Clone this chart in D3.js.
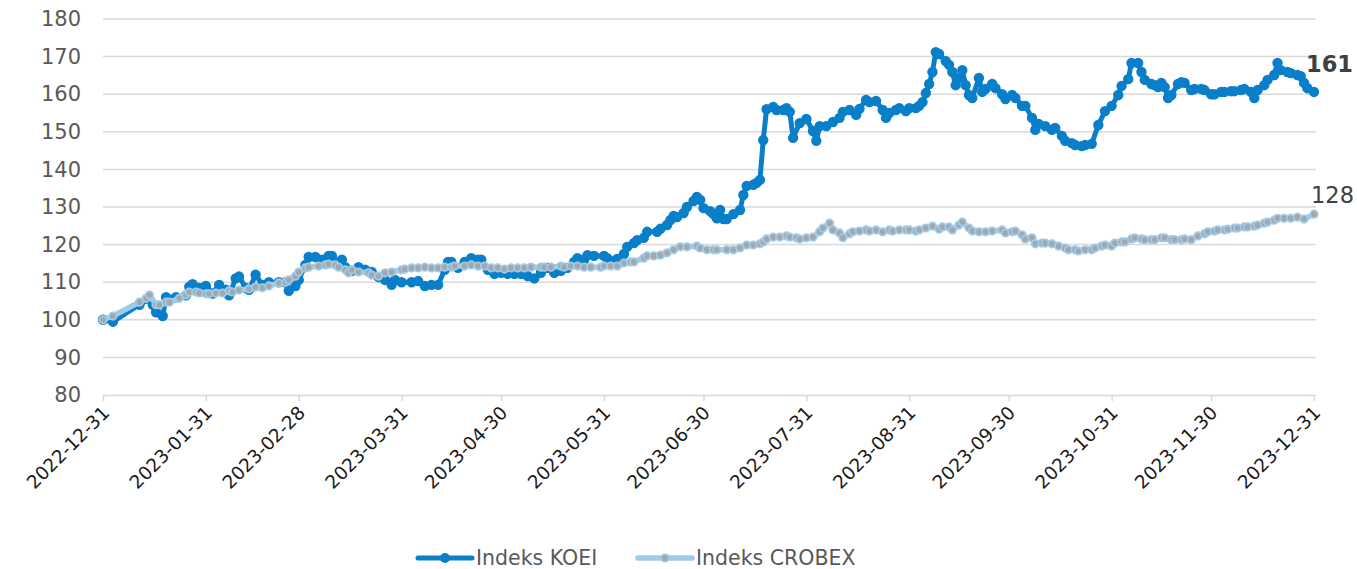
<!DOCTYPE html>
<html>
<head>
<meta charset="utf-8">
<script src="https://cdn.jsdelivr.net/npm/d3@7"></script>
<style>
  html, body { margin: 0; padding: 0; background: #fff; }
  svg { display: block; font-family: "DejaVu Sans", Verdana, sans-serif; }
</style>
</head>
<body>
<div id="chart"></div>
<script>
/* ── data: [days after 2022-12-31, index value] ── */
const seriesNames = ['Indeks KOEI', 'Indeks CROBEX'];
const monthTicks = ['2022-12-31','2023-01-31','2023-02-28','2023-03-31','2023-04-30','2023-05-31',
  '2023-06-30','2023-07-31','2023-08-31','2023-09-30','2023-10-31','2023-11-30','2023-12-31'];
const yTicks = [80, 90, 100, 110, 120, 130, 140, 150, 160, 170, 180];

const koei = [
  [0,100],[3,99.5],[11,104],[14,105.5],[15,104],[16,102],[18,101],[19,106],[22,106],[25,106.5],
  [26,108.8],[27,109.5],[29,108.5],[31,109],[33,107],[35,109.3],[37,108],[38,106.5],[40,111],[41,111.5],
  [43,108.5],[44,108],[46,112],[48,109.3],[50,110],[53,110],[55,110],[56,107.7],[58,109],[59,110.6],
  [61,114.6],[62,116.7],[64,116.7],[66,116],[68,117],[69,117],[71,115],[72,116],[73,114],[75,113],
  [77,114],[79,113.3],[81,112.7],[83,111.4],[85,110.6],[87,109.3],[88,110.6],[90,110],[93,110],[95,110.3],
  [97,109],[99,109.3],[101,109.3],[103,113.3],[104,115.4],[105,115.4],[107,113.8],[109,115.4],[111,116.4],[113,116],
  [114,116],[116,113.3],[118,112.2],[120,112.5],[122,112.2],[124,112.2],[126,112.2],[128,111.6],[130,111],[132,112.5],
  [134,113.8],[136,112.5],[138,113],[140,113.8],[142,115.4],[143,116.4],[145,116],[146,117.2],[148,117],[151,117],
  [152,116.4],[154,115.6],[155,116.2],[157,117.5],[158,119.4],[160,120.4],[161,121.2],[163,121.8],[164,123.4],[167,123.4],
  [168,124.2],[170,125.2],[171,126.5],[172,127.6],[173,127.3],[175,128.4],[176,130],[178,131.6],[179,132.7],[180,131.9],
  [181,129.7],[183,128.9],[184,128.1],[185,127],[186,129.2],[187,126.8],[188,126.8],[190,128.1],[192,129.2],[193,133.2],
  [194,135.6],[196,135.9],[197,136.4],[198,137.2],[199,147.8],[200,156],[202,156.6],[203,155.8],[205,155.8],[206,156.3],
  [207,155.3],[208,148.4],[210,152.3],[212,153.4],[214,150.2],[215,147.6],[216,151.5],[218,151.5],[220,152.6],[222,153.7],
  [223,155.3],[225,155.8],[227,154.5],[228,156.1],[230,158.5],[231,157.9],[233,158.2],[235,155.8],[236,153.7],[237,155],
  [239,155.8],[240,156.3],[242,155.5],[243,156.3],[245,156.3],[246,156.9],[247,157.9],[248,160.3],[249,162.7],[250,165.9],
  [251,171.2],[252,170.7],[254,168.8],[255,167.8],[256,165.9],[257,162.4],[258,164.3],[259,166.4],[260,162.4],[261,159.8],
  [262,159],[264,164.3],[265,160.6],[266,161.4],[268,162.7],[269,161.6],[271,160],[272,158.7],[274,159.8],[275,159],
  [277,156.9],[278,156.9],[280,153.7],[281,150.5],[282,152.1],[284,151.5],[286,150.5],[287,151],[289,148.9],[290,147.6],
  [292,147],[293,146.5],[295,146.2],[296,146.5],[298,146.8],[300,151.8],[302,155.5],[304,156.9],[306,159.8],[307,162.2],
  [309,164],[310,168.3],[312,168.3],[313,165.9],[314,163.8],[316,162.7],[317,162.4],[318,161.9],[319,163],[320,161.9],
  [321,159],[322,159.8],[324,162.7],[325,163.2],[326,163],[328,161.1],[329,161.4],[331,161.4],[332,161.1],[334,160],
  [335,160],[337,160.6],[338,160.6],[340,160.8],[341,160.8],[343,161.1],[344,161.4],[346,160.6],[347,159],[348,161.1],
  [350,162.4],[351,163.8],[353,165.1],[354,168.3],[355,166.4],[357,165.9],[358,165.6],[360,165.1],[361,164.8],[362,163],
  [363,161.6],[365,160.6]
];

const crobex = [
  [0,100],[3,101],[11,104.7],[13,105.7],[14,106.6],[16,104],[17,104],[19,104.7],[20,104.7],[23,105.7],
  [25,106.6],[26,107.4],[28,107.4],[29,107.1],[31,106.9],[32,106.9],[34,107.1],[36,107.1],[38,107.7],[39,107.4],
  [41,107.9],[44,108.2],[46,108.7],[48,108.5],[50,109],[53,109.8],[55,110],[56,110.6],[58,111.6],[59,112.7],
  [61,113.8],[62,114],[65,114.3],[67,114.6],[68,114.8],[70,114.6],[71,114],[73,113.3],[74,112.5],[75,113.3],
  [77,112.7],[80,112.5],[81,111.9],[83,111.6],[85,112.5],[87,112.7],[90,113.3],[91,113.5],[93,113.8],[95,113.8],
  [97,114],[99,113.8],[101,113.8],[103,114],[105,114],[106,114.3],[109,114.3],[111,114.6],[113,114.3],[115,114.3],
  [117,113.8],[119,113.8],[121,113.5],[123,113.8],[125,113.8],[127,113.8],[129,114],[132,114],[133,114],[135,114],
  [138,114.3],[139,114],[141,114.3],[143,114.3],[145,114],[147,114],[150,114],[151,114.3],[153,114.3],[155,114.3],
  [157,115.1],[159,115.4],[160,115.4],[163,116.4],[164,117],[166,117],[168,117.2],[170,117.8],[172,118.6],[174,119.4],
  [176,119.4],[179,119.6],[180,119.1],[182,118.6],[184,118.6],[185,118.6],[188,118.6],[190,118.6],[192,119.1],[194,119.9],
  [196,119.9],[198,120.2],[199,120.7],[200,121.5],[202,122],[204,122],[206,122.3],[207,122],[209,121.8],[210,121.5],
  [212,121.8],[214,122],[216,123.4],[217,124.4],[219,125.7],[220,123.9],[222,123.1],[223,121.8],[225,122.9],[226,123.4],
  [228,123.6],[230,123.9],[231,123.6],[233,123.9],[235,123.4],[237,123.9],[238,123.6],[240,123.9],[242,123.9],[243,123.9],
  [245,123.6],[246,123.9],[248,124.4],[250,124.9],[252,124.1],[253,124.7],[255,124.7],[256,123.9],[258,125.2],[259,126],
  [261,124.4],[262,123.6],[264,123.4],[266,123.4],[268,123.6],[271,123.9],[272,123.1],[274,123.4],[275,123.6],[277,122.6],
  [278,121.5],[280,121.8],[281,120.2],[283,120.4],[284,120.4],[286,120.2],[288,119.6],[290,119.1],[291,118.6],[293,118.6],
  [294,118.3],[296,118.6],[298,118.6],[299,119.1],[301,119.6],[302,119.9],[304,119.6],[305,120.4],[307,120.7],[308,120.7],
  [310,121.5],[311,121.8],[313,121.5],[314,121.3],[316,121.3],[317,121.3],[319,121.8],[320,121.8],[322,121.3],[323,121.3],
  [325,121.3],[326,121.5],[328,121.3],[330,122.3],[332,122.9],[333,123.4],[335,123.6],[336,123.9],[338,123.9],[339,124.1],
  [341,124.4],[342,124.4],[344,124.7],[345,124.7],[347,124.9],[348,125.2],[350,125.7],[351,126],[353,126.5],[354,127],
  [356,127],[358,127],[360,127.3],[362,126.8],[365,128.1]
];

/* ── layout ── */
const width = 1357, height = 569;
const plot = { left: 103, right: 1314, top: 19, bottom: 395 };
const base = new Date(2022, 11, 31);
const toDate = d => d3.timeDay.offset(base, d);
const parse = d3.timeParse('%Y-%m-%d');

const x = d3.scaleTime()
  .domain([parse(monthTicks[0]), parse(monthTicks[monthTicks.length - 1])])
  .range([plot.left, plot.right]);
const y = d3.scaleLinear().domain([80, 180]).range([plot.bottom, plot.top]);

const svg = d3.select('#chart').append('svg')
  .attr('width', width).attr('height', height);

/* gridlines */
svg.append('g')
  .selectAll('line')
  .data(yTicks.filter(v => v > 80))
  .join('line')
  .attr('x1', plot.left).attr('x2', plot.right + 2)
  .attr('y1', d => y(d)).attr('y2', d => y(d))
  .attr('stroke', '#d9d9d9').attr('stroke-width', 1.5);

/* y axis labels */
svg.append('g')
  .attr('transform', `translate(${plot.left},0)`)
  .call(d3.axisLeft(y).tickValues(yTicks).tickSize(0).tickPadding(22))
  .call(g => g.select('.domain').remove())
  .selectAll('text')
  .attr('font-size', 21).attr('fill', '#595959')
  .attr('font-family', '"DejaVu Sans", Verdana, sans-serif');

/* x axis */
const xAxis = svg.append('g')
  .attr('transform', `translate(0,${plot.bottom})`)
  .call(d3.axisBottom(x).tickValues(monthTicks.map(parse)).tickSize(6)
    .tickFormat(d3.timeFormat('%Y-%m-%d')));
xAxis.select('.domain').attr('stroke', '#d9d9d9').attr('stroke-width', 1.5)
  .attr('d', `M${plot.left},0.5H${plot.right + 2}`);
xAxis.selectAll('.tick line').attr('stroke', '#d9d9d9').attr('stroke-width', 1.5);
xAxis.selectAll('.tick text')
  .attr('font-size', 18.5).attr('fill', '#1a1a1a')
  .attr('font-family', '"DejaVu Sans", Verdana, sans-serif')
  .attr('text-anchor', 'end')
  .attr('transform', 'translate(7,19) rotate(-45)')
  .attr('dy', 0).attr('y', 0).attr('x', 0);

/* series */
const line = d3.line().x(d => x(toDate(d[0]))).y(d => y(d[1]));

const styles = [
  { data: koei, stroke: '#0a7fc9', width: 5, fill: '#0a7fc9', ring: '#0a7fc9', r: 4.3 },
  { data: crobex, stroke: '#9dcbeb', width: 5.5, fill: '#a6a6a6', ring: '#9dcbeb', r: 3.7 }
];

styles.forEach(s => {
  const g = svg.append('g');
  g.append('path').datum(s.data).attr('d', line)
    .attr('fill', 'none').attr('stroke', s.stroke).attr('stroke-width', s.width)
    .attr('stroke-linejoin', 'round').attr('stroke-linecap', 'round');
  g.selectAll('circle').data(s.data).join('circle')
    .attr('cx', d => x(toDate(d[0]))).attr('cy', d => y(d[1]))
    .attr('r', s.r).attr('fill', s.fill)
    .attr('stroke', s.ring).attr('stroke-width', 1.8);
});

/* end labels */
const lastK = koei[koei.length - 1], lastC = crobex[crobex.length - 1];
svg.append('text')
  .attr('x', x(toDate(lastK[0])) - 8).attr('y', y(lastK[1]) - 20)
  .attr('font-size', 22.5).attr('font-weight', 'bold').attr('fill', '#404040')
  .text(Math.round(lastK[1]));
svg.append('text')
  .attr('x', x(toDate(lastC[0])) - 3).attr('y', y(lastC[1]) - 11)
  .attr('font-size', 22.5).attr('fill', '#404040')
  .text(Math.round(lastC[1]));

/* legend */
const legend = svg.append('g').attr('transform', 'translate(0,558)');
const legendItems = [
  { name: seriesNames[0], x0: 418, s: styles[0] },
  { name: seriesNames[1], x0: 638, s: styles[1] }
];
legendItems.forEach(it => {
  legend.append('line').attr('x1', it.x0).attr('x2', it.x0 + 54)
    .attr('stroke', it.s.stroke).attr('stroke-width', it.s.width).attr('stroke-linecap', 'round');
  legend.append('circle').attr('cx', it.x0 + 27).attr('cy', 0).attr('r', it.s.r)
    .attr('fill', it.s.fill).attr('stroke', it.s.ring).attr('stroke-width', 1.5);
  legend.append('text').attr('x', it.x0 + 58).attr('y', 0).attr('dy', '0.36em')
    .attr('font-size', 20.5).attr('fill', '#595959').text(it.name);
});
</script>
</body>
</html>
